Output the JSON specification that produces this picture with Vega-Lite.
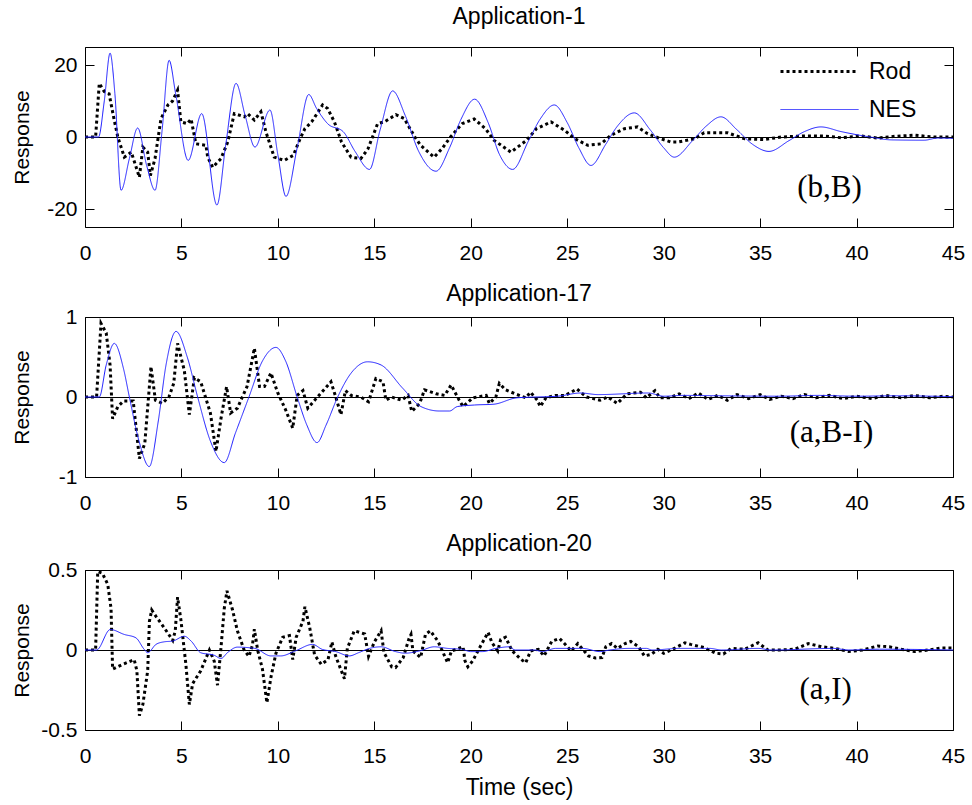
{
"$schema": "https://vega.github.io/schema/vega-lite/v6.json",
"padding": {"left": 10, "top": 5, "right": 0, "bottom": 0},
"spacing": 18,
"config": {
  "font": "Liberation Sans",
  "view": {"stroke": "black", "strokeWidth": 1},
  "title": {"fontSize": 23, "fontWeight": "normal", "color": "black", "offset": 18, "baseline": "alphabetic", "font": "Liberation Sans"},
  "axis": {"domain": false, "ticks": true, "tickColor": "black", "tickOpacity": 1, "labelColor": "black", "titleColor": "black", "labelFont": "Liberation Sans", "titleFont": "Liberation Sans", "labelFontSize": 21, "titleFontSize": 21, "titleFontWeight": "normal", "tickSize": 9, "offset": -9, "grid": false, "tickWidth": 1, "labelFlush": false, "labelOverlap": false, "zindex": 1, "format": ".1~f", "labelExpr": "replace(datum.label, '\u2212', '-')"},
  "legend": {"direction": "vertical", "symbolType": "M-3,0H3", "symbolSize": 676, "labelFontSize": 23, "labelFont": "Liberation Sans", "labelColor": "black", "labelOffset": 35, "rowPadding": 12, "padding": 0, "symbolFillColor": "transparent"}
},
"resolve": {"scale": {"color": "independent", "strokeDash": "independent", "strokeWidth": "independent"}, "legend": {"color": "independent", "strokeDash": "independent", "strokeWidth": "independent"}},
"datasets": {
"p1": [
{"t":0,"v":0,"s":"NES"},{"t":0.7,"v":0,"s":"NES"},{"t":1.0,"v":10,"s":"NES"},{"t":1.3,"v":23.3,"s":"NES"},{"t":1.55,"v":12,"s":"NES"},{"t":1.87,"v":-14.8,"s":"NES"},{"t":2.3,"v":-6,"s":"NES"},{"t":2.73,"v":2.5,"s":"NES"},{"t":3.2,"v":-8,"s":"NES"},{"t":3.63,"v":-14.8,"s":"NES"},{"t":4.0,"v":2,"s":"NES"},{"t":4.36,"v":21.3,"s":"NES"},{"t":4.7,"v":12,"s":"NES"},{"t":5.35,"v":-6.5,"s":"NES"},{"t":6.05,"v":6.5,"s":"NES"},{"t":6.84,"v":-18.9,"s":"NES"},{"t":7.3,"v":-2,"s":"NES"},{"t":7.83,"v":14.9,"s":"NES"},{"t":8.3,"v":6,"s":"NES"},{"t":8.81,"v":-2.8,"s":"NES"},{"t":9.59,"v":7.5,"s":"NES"},{"t":10.0,"v":-5,"s":"NES"},{"t":10.42,"v":-16.5,"s":"NES"},{"t":11.0,"v":-3,"s":"NES"},{"t":11.6,"v":11.8,"s":"NES"},{"t":12.0,"v":8,"s":"NES"},{"t":12.58,"v":3.7,"s":"NES"},{"t":13.4,"v":1.4,"s":"NES"},{"t":14.0,"v":-4,"s":"NES"},{"t":14.75,"v":-9,"s":"NES"},{"t":15.3,"v":2,"s":"NES"},{"t":15.95,"v":12.8,"s":"NES"},{"t":16.6,"v":6,"s":"NES"},{"t":17.3,"v":-4,"s":"NES"},{"t":18.2,"v":-9.5,"s":"NES"},{"t":18.9,"v":-3,"s":"NES"},{"t":19.5,"v":5,"s":"NES"},{"t":20.2,"v":10.5,"s":"NES"},{"t":20.9,"v":4,"s":"NES"},{"t":21.5,"v":-5,"s":"NES"},{"t":22.17,"v":-9,"s":"NES"},{"t":23.0,"v":-1,"s":"NES"},{"t":23.6,"v":5,"s":"NES"},{"t":24.33,"v":8.9,"s":"NES"},{"t":25.0,"v":4,"s":"NES"},{"t":25.6,"v":-3,"s":"NES"},{"t":26.23,"v":-7.9,"s":"NES"},{"t":27.0,"v":-2,"s":"NES"},{"t":27.6,"v":3,"s":"NES"},{"t":28.48,"v":6.7,"s":"NES"},{"t":29.3,"v":2,"s":"NES"},{"t":30.0,"v":-3,"s":"NES"},{"t":30.55,"v":-5.6,"s":"NES"},{"t":31.5,"v":-1,"s":"NES"},{"t":32.2,"v":3,"s":"NES"},{"t":32.97,"v":5.6,"s":"NES"},{"t":33.8,"v":2,"s":"NES"},{"t":34.6,"v":-2,"s":"NES"},{"t":35.46,"v":-4.0,"s":"NES"},{"t":36.5,"v":-1,"s":"NES"},{"t":37.3,"v":1.5,"s":"NES"},{"t":38.15,"v":2.8,"s":"NES"},{"t":39.2,"v":1.5,"s":"NES"},{"t":40.7,"v":0,"s":"NES"},{"t":41.8,"v":-0.8,"s":"NES"},{"t":43.5,"v":-0.9,"s":"NES"},{"t":44.2,"v":-0.3,"s":"NES"},{"t":45,"v":-0.4,"s":"NES"},
{"t":0,"v":0,"s":"Rod"},{"t":0.55,"v":0,"s":"Rod"},{"t":0.74,"v":14.9,"s":"Rod"},{"t":1.0,"v":12.6,"s":"Rod"},{"t":1.25,"v":12,"s":"Rod"},{"t":1.5,"v":5.1,"s":"Rod"},{"t":1.7,"v":0,"s":"Rod"},{"t":2.04,"v":-5.6,"s":"Rod"},{"t":2.4,"v":-4.2,"s":"Rod"},{"t":2.82,"v":-11.2,"s":"Rod"},{"t":3.0,"v":-2.8,"s":"Rod"},{"t":3.25,"v":-4.2,"s":"Rod"},{"t":3.39,"v":-10.7,"s":"Rod"},{"t":3.63,"v":-6,"s":"Rod"},{"t":3.94,"v":5.1,"s":"Rod"},{"t":4.3,"v":8.9,"s":"Rod"},{"t":4.54,"v":10,"s":"Rod"},{"t":4.8,"v":13,"s":"Rod"},{"t":4.97,"v":4.2,"s":"Rod"},{"t":5.3,"v":3.7,"s":"Rod"},{"t":5.5,"v":5,"s":"Rod"},{"t":5.75,"v":-1.9,"s":"Rod"},{"t":6.27,"v":-2.3,"s":"Rod"},{"t":6.36,"v":-5.6,"s":"Rod"},{"t":6.62,"v":-8.4,"s":"Rod"},{"t":7.05,"v":-6,"s":"Rod"},{"t":7.4,"v":-1.4,"s":"Rod"},{"t":7.74,"v":6.5,"s":"Rod"},{"t":8.26,"v":5.6,"s":"Rod"},{"t":8.43,"v":6.5,"s":"Rod"},{"t":8.78,"v":4.7,"s":"Rod"},{"t":9.12,"v":7,"s":"Rod"},{"t":9.38,"v":1.4,"s":"Rod"},{"t":9.81,"v":-5.6,"s":"Rod"},{"t":10.33,"v":-6.5,"s":"Rod"},{"t":10.8,"v":-5.1,"s":"Rod"},{"t":11.15,"v":-0.5,"s":"Rod"},{"t":11.4,"v":2.3,"s":"Rod"},{"t":11.75,"v":4.2,"s":"Rod"},{"t":11.92,"v":5.6,"s":"Rod"},{"t":12.32,"v":8.9,"s":"Rod"},{"t":12.58,"v":7.9,"s":"Rod"},{"t":12.93,"v":4.2,"s":"Rod"},{"t":13.3,"v":-1.4,"s":"Rod"},{"t":13.79,"v":-5.6,"s":"Rod"},{"t":14.3,"v":-6,"s":"Rod"},{"t":14.67,"v":-3.3,"s":"Rod"},{"t":15.17,"v":3.7,"s":"Rod"},{"t":15.52,"v":4.2,"s":"Rod"},{"t":16.12,"v":6.2,"s":"Rod"},{"t":16.55,"v":5.1,"s":"Rod"},{"t":17.1,"v":0,"s":"Rod"},{"t":17.4,"v":-2.3,"s":"Rod"},{"t":18.1,"v":-5.6,"s":"Rod"},{"t":18.5,"v":-3.3,"s":"Rod"},{"t":18.95,"v":0,"s":"Rod"},{"t":19.55,"v":3.7,"s":"Rod"},{"t":20.18,"v":5,"s":"Rod"},{"t":20.78,"v":2.2,"s":"Rod"},{"t":21.2,"v":-0.9,"s":"Rod"},{"t":22.08,"v":-4.2,"s":"Rod"},{"t":22.9,"v":-0.9,"s":"Rod"},{"t":23.4,"v":2.3,"s":"Rod"},{"t":24.16,"v":4.2,"s":"Rod"},{"t":24.85,"v":1.9,"s":"Rod"},{"t":25.4,"v":-0.5,"s":"Rod"},{"t":26.06,"v":-2.3,"s":"Rod"},{"t":26.75,"v":-1.9,"s":"Rod"},{"t":27.27,"v":0.5,"s":"Rod"},{"t":27.96,"v":2.3,"s":"Rod"},{"t":28.65,"v":2.8,"s":"Rod"},{"t":29.17,"v":0.9,"s":"Rod"},{"t":29.86,"v":-0.5,"s":"Rod"},{"t":30.37,"v":-1.4,"s":"Rod"},{"t":30.74,"v":-1.4,"s":"Rod"},{"t":31.6,"v":-0.5,"s":"Rod"},{"t":32.1,"v":1.2,"s":"Rod"},{"t":33.3,"v":1.2,"s":"Rod"},{"t":34.2,"v":-0.5,"s":"Rod"},{"t":35.2,"v":-0.7,"s":"Rod"},{"t":36.1,"v":0,"s":"Rod"},{"t":37.3,"v":0.3,"s":"Rod"},{"t":38.3,"v":0.3,"s":"Rod"},{"t":39.2,"v":-0.2,"s":"Rod"},{"t":40.2,"v":0.3,"s":"Rod"},{"t":41.1,"v":-0.3,"s":"Rod"},{"t":42.0,"v":0.2,"s":"Rod"},{"t":43.0,"v":0.5,"s":"Rod"},{"t":44.0,"v":0,"s":"Rod"},{"t":45,"v":0,"s":"Rod"}
],
"p2": [
{"t":0,"v":0,"s":"NES"},{"t":0.74,"v":0,"s":"NES"},{"t":1.1,"v":0.4,"s":"NES"},{"t":1.52,"v":0.67,"s":"NES"},{"t":2.0,"v":0.35,"s":"NES"},{"t":2.3,"v":0,"s":"NES"},{"t":2.8,"v":-0.55,"s":"NES"},{"t":3.33,"v":-0.87,"s":"NES"},{"t":3.8,"v":-0.3,"s":"NES"},{"t":4.2,"v":0.4,"s":"NES"},{"t":4.72,"v":0.82,"s":"NES"},{"t":5.3,"v":0.5,"s":"NES"},{"t":5.84,"v":0,"s":"NES"},{"t":6.5,"v":-0.55,"s":"NES"},{"t":7.22,"v":-0.82,"s":"NES"},{"t":7.8,"v":-0.45,"s":"NES"},{"t":8.5,"v":0,"s":"NES"},{"t":9.2,"v":0.45,"s":"NES"},{"t":9.9,"v":0.62,"s":"NES"},{"t":10.4,"v":0.45,"s":"NES"},{"t":11.0,"v":0,"s":"NES"},{"t":11.5,"v":-0.35,"s":"NES"},{"t":12.03,"v":-0.57,"s":"NES"},{"t":12.5,"v":-0.35,"s":"NES"},{"t":13.1,"v":0,"s":"NES"},{"t":13.8,"v":0.3,"s":"NES"},{"t":14.65,"v":0.44,"s":"NES"},{"t":15.35,"v":0.4,"s":"NES"},{"t":16.47,"v":0.11,"s":"NES"},{"t":17.42,"v":-0.12,"s":"NES"},{"t":18.37,"v":-0.175,"s":"NES"},{"t":18.9,"v":-0.175,"s":"NES"},{"t":19.3,"v":-0.12,"s":"NES"},{"t":20.2,"v":-0.1,"s":"NES"},{"t":21.2,"v":-0.09,"s":"NES"},{"t":22.4,"v":-0.01,"s":"NES"},{"t":24.5,"v":0.01,"s":"NES"},{"t":25.7,"v":0.05,"s":"NES"},{"t":26.6,"v":0.03,"s":"NES"},{"t":29.2,"v":0.05,"s":"NES"},{"t":30.0,"v":0.01,"s":"NES"},{"t":31,"v":0.02,"s":"NES"},{"t":33,"v":0.015,"s":"NES"},{"t":36,"v":0.01,"s":"NES"},{"t":38,"v":0.02,"s":"NES"},{"t":40,"v":0.01,"s":"NES"},{"t":42,"v":0.015,"s":"NES"},{"t":45,"v":0.005,"s":"NES"},
{"t":0,"v":0,"s":"Rod"},{"t":0.6,"v":0,"s":"Rod"},{"t":0.83,"v":0.92,"s":"Rod"},{"t":1.1,"v":0.8,"s":"Rod"},{"t":1.3,"v":0.4,"s":"Rod"},{"t":1.43,"v":-0.27,"s":"Rod"},{"t":1.7,"v":-0.12,"s":"Rod"},{"t":2.0,"v":-0.05,"s":"Rod"},{"t":2.5,"v":-0.05,"s":"Rod"},{"t":2.82,"v":-0.77,"s":"Rod"},{"t":3.1,"v":-0.58,"s":"Rod"},{"t":3.42,"v":0.38,"s":"Rod"},{"t":3.65,"v":-0.04,"s":"Rod"},{"t":4.0,"v":-0.08,"s":"Rod"},{"t":4.35,"v":0,"s":"Rod"},{"t":4.6,"v":0.17,"s":"Rod"},{"t":4.8,"v":0.67,"s":"Rod"},{"t":5.15,"v":0.33,"s":"Rod"},{"t":5.41,"v":-0.22,"s":"Rod"},{"t":5.67,"v":0.24,"s":"Rod"},{"t":6.0,"v":0.19,"s":"Rod"},{"t":6.5,"v":-0.2,"s":"Rod"},{"t":6.79,"v":-0.68,"s":"Rod"},{"t":7.05,"v":-0.27,"s":"Rod"},{"t":7.34,"v":0.13,"s":"Rod"},{"t":7.55,"v":-0.2,"s":"Rod"},{"t":7.9,"v":-0.14,"s":"Rod"},{"t":8.4,"v":0.13,"s":"Rod"},{"t":8.78,"v":0.61,"s":"Rod"},{"t":9.05,"v":0.13,"s":"Rod"},{"t":9.3,"v":0.13,"s":"Rod"},{"t":9.64,"v":0.3,"s":"Rod"},{"t":9.98,"v":0.06,"s":"Rod"},{"t":10.4,"v":-0.16,"s":"Rod"},{"t":10.77,"v":-0.39,"s":"Rod"},{"t":11.0,"v":0.02,"s":"Rod"},{"t":11.3,"v":0.08,"s":"Rod"},{"t":11.55,"v":-0.14,"s":"Rod"},{"t":12.05,"v":0,"s":"Rod"},{"t":12.75,"v":0.19,"s":"Rod"},{"t":13.0,"v":0,"s":"Rod"},{"t":13.27,"v":-0.22,"s":"Rod"},{"t":13.5,"v":0.08,"s":"Rod"},{"t":13.8,"v":0.02,"s":"Rod"},{"t":14.3,"v":0,"s":"Rod"},{"t":14.7,"v":-0.06,"s":"Rod"},{"t":15.08,"v":0.23,"s":"Rod"},{"t":15.45,"v":0.19,"s":"Rod"},{"t":15.6,"v":-0.04,"s":"Rod"},{"t":15.9,"v":0,"s":"Rod"},{"t":16.4,"v":-0.04,"s":"Rod"},{"t":16.75,"v":0.02,"s":"Rod"},{"t":16.94,"v":-0.18,"s":"Rod"},{"t":17.35,"v":-0.08,"s":"Rod"},{"t":17.6,"v":0.09,"s":"Rod"},{"t":18.2,"v":0.04,"s":"Rod"},{"t":18.65,"v":0.02,"s":"Rod"},{"t":18.98,"v":0.15,"s":"Rod"},{"t":19.4,"v":-0.04,"s":"Rod"},{"t":19.6,"v":-0.12,"s":"Rod"},{"t":20.1,"v":-0.01,"s":"Rod"},{"t":20.8,"v":0.02,"s":"Rod"},{"t":20.96,"v":-0.08,"s":"Rod"},{"t":21.3,"v":0,"s":"Rod"},{"t":21.48,"v":0.17,"s":"Rod"},{"t":21.8,"v":0.09,"s":"Rod"},{"t":22.3,"v":0.04,"s":"Rod"},{"t":22.85,"v":-0.01,"s":"Rod"},{"t":23.1,"v":0.06,"s":"Rod"},{"t":23.45,"v":-0.04,"s":"Rod"},{"t":23.6,"v":-0.12,"s":"Rod"},{"t":23.9,"v":-0.01,"s":"Rod"},{"t":24.4,"v":0.02,"s":"Rod"},{"t":24.9,"v":0.02,"s":"Rod"},{"t":25.5,"v":0.1,"s":"Rod"},{"t":25.7,"v":0.06,"s":"Rod"},{"t":26.0,"v":0,"s":"Rod"},{"t":26.7,"v":-0.04,"s":"Rod"},{"t":27.1,"v":0,"s":"Rod"},{"t":27.6,"v":-0.08,"s":"Rod"},{"t":28.1,"v":0.04,"s":"Rod"},{"t":28.8,"v":0.06,"s":"Rod"},{"t":29.1,"v":-0.01,"s":"Rod"},{"t":29.55,"v":0.08,"s":"Rod"},{"t":29.8,"v":-0.01,"s":"Rod"},{"t":30.3,"v":-0.01,"s":"Rod"},{"t":30.8,"v":0.04,"s":"Rod"},{"t":31.3,"v":-0.02,"s":"Rod"},{"t":31.8,"v":0.05,"s":"Rod"},{"t":32.3,"v":-0.03,"s":"Rod"},{"t":32.8,"v":0.02,"s":"Rod"},{"t":33.3,"v":-0.04,"s":"Rod"},{"t":33.8,"v":0.03,"s":"Rod"},{"t":34.4,"v":-0.02,"s":"Rod"},{"t":35.0,"v":0.03,"s":"Rod"},{"t":35.5,"v":-0.03,"s":"Rod"},{"t":36.1,"v":0.01,"s":"Rod"},{"t":36.7,"v":-0.02,"s":"Rod"},{"t":37.3,"v":0.03,"s":"Rod"},{"t":37.9,"v":-0.01,"s":"Rod"},{"t":38.6,"v":0.02,"s":"Rod"},{"t":39.3,"v":-0.02,"s":"Rod"},{"t":40.0,"v":0.01,"s":"Rod"},{"t":40.8,"v":-0.02,"s":"Rod"},{"t":41.5,"v":0.02,"s":"Rod"},{"t":42.3,"v":-0.01,"s":"Rod"},{"t":43.0,"v":0.02,"s":"Rod"},{"t":43.8,"v":-0.01,"s":"Rod"},{"t":44.5,"v":0.01,"s":"Rod"},{"t":45,"v":0,"s":"Rod"}
],
"p3": [
{"t":0,"v":0,"s":"NES"},{"t":0.6,"v":0,"s":"NES"},{"t":1.31,"v":0.128,"s":"NES"},{"t":2.04,"v":0.097,"s":"NES"},{"t":2.64,"v":0.076,"s":"NES"},{"t":3.07,"v":0.004,"s":"NES"},{"t":3.25,"v":-0.017,"s":"NES"},{"t":3.68,"v":0.035,"s":"NES"},{"t":4.1,"v":0.051,"s":"NES"},{"t":4.55,"v":0.056,"s":"NES"},{"t":5.15,"v":0.086,"s":"NES"},{"t":5.5,"v":0.056,"s":"NES"},{"t":6.0,"v":-0.017,"s":"NES"},{"t":6.7,"v":-0.033,"s":"NES"},{"t":7.05,"v":-0.053,"s":"NES"},{"t":7.4,"v":-0.015,"s":"NES"},{"t":7.9,"v":0.018,"s":"NES"},{"t":8.8,"v":0.01,"s":"NES"},{"t":9.64,"v":-0.037,"s":"NES"},{"t":10.15,"v":-0.037,"s":"NES"},{"t":10.9,"v":-0.006,"s":"NES"},{"t":11.8,"v":0.035,"s":"NES"},{"t":12.3,"v":0.004,"s":"NES"},{"t":13.0,"v":-0.01,"s":"NES"},{"t":13.7,"v":-0.037,"s":"NES"},{"t":14.2,"v":-0.016,"s":"NES"},{"t":14.75,"v":0.01,"s":"NES"},{"t":15.35,"v":0.02,"s":"NES"},{"t":16.1,"v":-0.01,"s":"NES"},{"t":16.6,"v":-0.02,"s":"NES"},{"t":17.4,"v":-0.004,"s":"NES"},{"t":18.1,"v":0.02,"s":"NES"},{"t":18.8,"v":0.01,"s":"NES"},{"t":19.55,"v":0.004,"s":"NES"},{"t":20.0,"v":-0.01,"s":"NES"},{"t":20.6,"v":-0.01,"s":"NES"},{"t":21.3,"v":0.01,"s":"NES"},{"t":22.0,"v":0.02,"s":"NES"},{"t":22.3,"v":0,"s":"NES"},{"t":23.3,"v":0,"s":"NES"},{"t":23.7,"v":-0.01,"s":"NES"},{"t":24.4,"v":0.01,"s":"NES"},{"t":25.8,"v":0.01,"s":"NES"},{"t":26.7,"v":-0.01,"s":"NES"},{"t":27.2,"v":0,"s":"NES"},{"t":28.2,"v":0.01,"s":"NES"},{"t":29.1,"v":0.01,"s":"NES"},{"t":29.4,"v":0,"s":"NES"},{"t":30.8,"v":0.01,"s":"NES"},{"t":32.4,"v":0.01,"s":"NES"},{"t":33,"v":0,"s":"NES"},{"t":34.9,"v":0.01,"s":"NES"},{"t":35.6,"v":0,"s":"NES"},{"t":38.8,"v":0.01,"s":"NES"},{"t":39.6,"v":0,"s":"NES"},{"t":41.2,"v":0.005,"s":"NES"},{"t":45,"v":0,"s":"NES"},
{"t":0,"v":0,"s":"Rod"},{"t":0.55,"v":0,"s":"Rod"},{"t":0.66,"v":0.49,"s":"Rod"},{"t":0.9,"v":0.48,"s":"Rod"},{"t":1.18,"v":0.41,"s":"Rod"},{"t":1.35,"v":0.26,"s":"Rod"},{"t":1.43,"v":-0.12,"s":"Rod"},{"t":1.95,"v":-0.09,"s":"Rod"},{"t":2.55,"v":-0.06,"s":"Rod"},{"t":2.69,"v":-0.13,"s":"Rod"},{"t":2.82,"v":-0.41,"s":"Rod"},{"t":3.0,"v":-0.34,"s":"Rod"},{"t":3.25,"v":-0.13,"s":"Rod"},{"t":3.34,"v":0.18,"s":"Rod"},{"t":3.46,"v":0.25,"s":"Rod"},{"t":3.68,"v":0.21,"s":"Rod"},{"t":4.1,"v":0.14,"s":"Rod"},{"t":4.55,"v":0.06,"s":"Rod"},{"t":4.68,"v":0.12,"s":"Rod"},{"t":4.8,"v":0.33,"s":"Rod"},{"t":4.97,"v":0.19,"s":"Rod"},{"t":5.23,"v":-0.09,"s":"Rod"},{"t":5.41,"v":-0.34,"s":"Rod"},{"t":5.58,"v":-0.21,"s":"Rod"},{"t":6.0,"v":-0.13,"s":"Rod"},{"t":6.45,"v":0,"s":"Rod"},{"t":6.7,"v":-0.07,"s":"Rod"},{"t":6.87,"v":-0.22,"s":"Rod"},{"t":7.05,"v":0.015,"s":"Rod"},{"t":7.22,"v":0.26,"s":"Rod"},{"t":7.36,"v":0.37,"s":"Rod"},{"t":7.65,"v":0.25,"s":"Rod"},{"t":7.9,"v":0.12,"s":"Rod"},{"t":8.25,"v":0,"s":"Rod"},{"t":8.5,"v":-0.04,"s":"Rod"},{"t":8.68,"v":0.03,"s":"Rod"},{"t":8.78,"v":0.13,"s":"Rod"},{"t":8.95,"v":0,"s":"Rod"},{"t":9.2,"v":-0.12,"s":"Rod"},{"t":9.43,"v":-0.33,"s":"Rod"},{"t":9.64,"v":-0.17,"s":"Rod"},{"t":9.9,"v":-0.02,"s":"Rod"},{"t":10.25,"v":0.08,"s":"Rod"},{"t":10.6,"v":0.09,"s":"Rod"},{"t":10.77,"v":-0.06,"s":"Rod"},{"t":10.95,"v":0.08,"s":"Rod"},{"t":11.3,"v":0.18,"s":"Rod"},{"t":11.4,"v":0.27,"s":"Rod"},{"t":11.65,"v":0.14,"s":"Rod"},{"t":11.9,"v":-0.03,"s":"Rod"},{"t":12.25,"v":-0.09,"s":"Rod"},{"t":12.6,"v":-0.06,"s":"Rod"},{"t":12.8,"v":0.05,"s":"Rod"},{"t":13.0,"v":-0.04,"s":"Rod"},{"t":13.45,"v":-0.18,"s":"Rod"},{"t":13.6,"v":0.01,"s":"Rod"},{"t":13.96,"v":0.12,"s":"Rod"},{"t":14.5,"v":0.1,"s":"Rod"},{"t":14.7,"v":-0.04,"s":"Rod"},{"t":15.0,"v":0.05,"s":"Rod"},{"t":15.35,"v":0.12,"s":"Rod"},{"t":15.5,"v":-0.016,"s":"Rod"},{"t":15.9,"v":-0.105,"s":"Rod"},{"t":16.1,"v":-0.11,"s":"Rod"},{"t":16.5,"v":-0.047,"s":"Rod"},{"t":16.8,"v":0.072,"s":"Rod"},{"t":16.9,"v":0.097,"s":"Rod"},{"t":17.0,"v":-0.006,"s":"Rod"},{"t":17.4,"v":-0.047,"s":"Rod"},{"t":17.65,"v":0.097,"s":"Rod"},{"t":17.9,"v":0.12,"s":"Rod"},{"t":18.3,"v":0.055,"s":"Rod"},{"t":18.8,"v":-0.08,"s":"Rod"},{"t":19.0,"v":-0.006,"s":"Rod"},{"t":19.6,"v":0.02,"s":"Rod"},{"t":19.7,"v":-0.068,"s":"Rod"},{"t":19.85,"v":-0.105,"s":"Rod"},{"t":20.1,"v":-0.068,"s":"Rod"},{"t":20.55,"v":0.035,"s":"Rod"},{"t":20.9,"v":0.11,"s":"Rod"},{"t":21.1,"v":0.045,"s":"Rod"},{"t":21.4,"v":-0.006,"s":"Rod"},{"t":21.55,"v":0.066,"s":"Rod"},{"t":21.8,"v":0.08,"s":"Rod"},{"t":22.15,"v":-0.006,"s":"Rod"},{"t":22.6,"v":-0.058,"s":"Rod"},{"t":22.85,"v":-0.08,"s":"Rod"},{"t":23.1,"v":-0.006,"s":"Rod"},{"t":23.5,"v":0.004,"s":"Rod"},{"t":23.8,"v":-0.037,"s":"Rod"},{"t":24.2,"v":0.055,"s":"Rod"},{"t":24.6,"v":0.072,"s":"Rod"},{"t":24.9,"v":0.035,"s":"Rod"},{"t":25.2,"v":-0.006,"s":"Rod"},{"t":25.55,"v":0.04,"s":"Rod"},{"t":26.1,"v":-0.037,"s":"Rod"},{"t":26.45,"v":-0.05,"s":"Rod"},{"t":26.8,"v":-0.047,"s":"Rod"},{"t":27.0,"v":0.02,"s":"Rod"},{"t":27.3,"v":0.04,"s":"Rod"},{"t":27.6,"v":0.01,"s":"Rod"},{"t":28.0,"v":0.04,"s":"Rod"},{"t":28.3,"v":0.053,"s":"Rod"},{"t":28.7,"v":0.02,"s":"Rod"},{"t":29.0,"v":-0.037,"s":"Rod"},{"t":29.35,"v":-0.027,"s":"Rod"},{"t":29.7,"v":0.004,"s":"Rod"},{"t":30.0,"v":-0.02,"s":"Rod"},{"t":30.4,"v":0,"s":"Rod"},{"t":31.1,"v":0.045,"s":"Rod"},{"t":31.4,"v":0.035,"s":"Rod"},{"t":32.1,"v":0.015,"s":"Rod"},{"t":32.7,"v":-0.02,"s":"Rod"},{"t":33.1,"v":-0.025,"s":"Rod"},{"t":33.5,"v":0.01,"s":"Rod"},{"t":34.2,"v":0.005,"s":"Rod"},{"t":34.9,"v":0.045,"s":"Rod"},{"t":35.4,"v":0,"s":"Rod"},{"t":36.1,"v":0,"s":"Rod"},{"t":36.8,"v":0.005,"s":"Rod"},{"t":37.5,"v":0.04,"s":"Rod"},{"t":38.2,"v":0.02,"s":"Rod"},{"t":38.9,"v":0.01,"s":"Rod"},{"t":39.6,"v":-0.01,"s":"Rod"},{"t":40.3,"v":0,"s":"Rod"},{"t":41.1,"v":0.025,"s":"Rod"},{"t":41.7,"v":0.02,"s":"Rod"},{"t":42.3,"v":0.005,"s":"Rod"},{"t":43.0,"v":-0.01,"s":"Rod"},{"t":43.7,"v":0,"s":"Rod"},{"t":44.4,"v":0.012,"s":"Rod"},{"t":45,"v":0.012,"s":"Rod"}
]
},
"vconcat": [
{
 "width": 868, "height": 180,
 "title": {"text": "Application-1", "offset": 18},
 "data": {"name": "p1"},
 "layer": [
  {"data": {"values": [{}]}, "mark": {"type": "rule", "color": "black", "strokeWidth": 1, "yOffset": 0.5},
   "encoding": {"y": {"datum": 0, "type": "quantitative", "scale": {"domain": [-25, 25], "nice": false, "zero": false}, "axis": null}}},
  {"transform": [{"filter": "datum.s === 'Rod'"}],
   "mark": {"type": "line", "strokeCap": "butt"},
   "encoding": {
    "x": {"field": "t", "type": "quantitative", "scale": {"domain": [0, 45], "nice": false, "zero": false}, "axis": {"orient": "bottom", "title": null, "ticks": true, "values": [0,5,10,15,20,25,30,35,40,45], "labelPadding": 15}},
    "y": {"field": "v", "type": "quantitative", "scale": {"domain": [-25, 25], "nice": false, "zero": false}, "axis": {"orient": "left", "title": "Response", "ticks": true, "titleX": -62, "values": [-20, 0, 20], "labelPadding": 8}},
    "color": {"field": "s", "type": "nominal", "scale": {"domain": ["Rod", "NES"], "range": ["black", "#1f1fff"]}, "legend": {"title": null, "orient": "none", "legendX": 720, "legendY": 10}},
    "strokeDash": {"field": "s", "type": "nominal", "scale": {"domain": ["Rod", "NES"], "range": [[3, 3], [1, 0]]}, "legend": {"title": null, "orient": "none", "legendX": 720, "legendY": 10}},
    "strokeWidth": {"field": "s", "type": "nominal", "scale": {"domain": ["Rod", "NES"], "range": [3, 1]}, "legend": {"title": null, "orient": "none", "legendX": 720, "legendY": 10}}
   }},
  {"transform": [{"filter": "datum.s === 'NES'"}],
   "mark": {"type": "line", "interpolate": "monotone"},
   "encoding": {
    "x": {"field": "t", "type": "quantitative", "scale": {"domain": [0, 45], "nice": false, "zero": false}, "axis": {"orient": "top", "title": null, "ticks": true, "labels": false, "values": [0,5,10,15,20,25,30,35,40,45]}},
    "y": {"field": "v", "type": "quantitative", "scale": {"domain": [-25, 25], "nice": false, "zero": false}, "axis": {"orient": "right", "title": null, "ticks": true, "labels": false, "values": [-20, 0, 20]}},
    "color": {"field": "s", "type": "nominal", "scale": {"domain": ["Rod", "NES"], "range": ["black", "#1f1fff"]}, "legend": {"title": null, "orient": "none", "legendX": 720, "legendY": 10}},
    "strokeDash": {"field": "s", "type": "nominal", "scale": {"domain": ["Rod", "NES"], "range": [[3, 3], [1, 0]]}, "legend": {"title": null, "orient": "none", "legendX": 720, "legendY": 10}},
    "strokeWidth": {"field": "s", "type": "nominal", "scale": {"domain": ["Rod", "NES"], "range": [3, 1]}, "legend": {"title": null, "orient": "none", "legendX": 720, "legendY": 10}}
   }},
  {"data": {"values": [{"t": 38.6, "v": -14.1, "label": "(b,B)"}]},
   "mark": {"type": "text", "font": "Liberation Serif", "fontSize": 31, "align": "center", "baseline": "middle", "color": "black"},
   "encoding": {"x": {"field": "t", "type": "quantitative", "axis": null}, "y": {"field": "v", "type": "quantitative", "axis": null}, "text": {"field": "label"}}}
 ],
 "resolve": {"axis": {"x": "independent", "y": "independent"}}
},
{
 "width": 868, "height": 160,
 "title": {"text": "Application-17", "offset": 0},
 "data": {"name": "p2"},
 "layer": [
  {"data": {"values": [{}]}, "mark": {"type": "rule", "color": "black", "strokeWidth": 1, "yOffset": 0.5},
   "encoding": {"y": {"datum": 0, "type": "quantitative", "scale": {"domain": [-1, 1], "nice": false, "zero": false}, "axis": null}}},
  {"transform": [{"filter": "datum.s === 'Rod'"}],
   "mark": {"type": "line", "strokeCap": "butt"},
   "encoding": {
    "x": {"field": "t", "type": "quantitative", "scale": {"domain": [0, 45], "nice": false, "zero": false}, "axis": {"orient": "bottom", "title": null, "ticks": true, "values": [0,5,10,15,20,25,30,35,40,45], "labelPadding": 15}},
    "y": {"field": "v", "type": "quantitative", "scale": {"domain": [-1, 1], "nice": false, "zero": false}, "axis": {"orient": "left", "title": "Response", "ticks": true, "titleX": -62, "values": [-1, 0, 1], "labelPadding": 8}},
    "color": {"field": "s", "type": "nominal", "scale": {"domain": ["Rod", "NES"], "range": ["black", "#1f1fff"]}, "legend": null},
    "strokeDash": {"field": "s", "type": "nominal", "scale": {"domain": ["Rod", "NES"], "range": [[3, 3], [1, 0]]}, "legend": null},
    "strokeWidth": {"field": "s", "type": "nominal", "scale": {"domain": ["Rod", "NES"], "range": [3, 1]}, "legend": null}
   }},
  {"transform": [{"filter": "datum.s === 'NES'"}],
   "mark": {"type": "line", "interpolate": "monotone"},
   "encoding": {
    "x": {"field": "t", "type": "quantitative", "scale": {"domain": [0, 45], "nice": false, "zero": false}, "axis": {"orient": "top", "title": null, "ticks": true, "labels": false, "values": [0,5,10,15,20,25,30,35,40,45]}},
    "y": {"field": "v", "type": "quantitative", "scale": {"domain": [-1, 1], "nice": false, "zero": false}, "axis": {"orient": "right", "title": null, "ticks": true, "labels": false, "values": [-1, 0, 1]}},
    "color": {"field": "s", "type": "nominal", "scale": {"domain": ["Rod", "NES"], "range": ["black", "#1f1fff"]}, "legend": null},
    "strokeDash": {"field": "s", "type": "nominal", "scale": {"domain": ["Rod", "NES"], "range": [[3, 3], [1, 0]]}, "legend": null},
    "strokeWidth": {"field": "s", "type": "nominal", "scale": {"domain": ["Rod", "NES"], "range": [3, 1]}, "legend": null}
   }},
  {"data": {"values": [{"t": 38.7, "v": -0.45, "label": "(a,B-I)"}]},
   "mark": {"type": "text", "font": "Liberation Serif", "fontSize": 31, "align": "center", "baseline": "middle", "color": "black"},
   "encoding": {"x": {"field": "t", "type": "quantitative", "axis": null}, "y": {"field": "v", "type": "quantitative", "axis": null}, "text": {"field": "label"}}}
 ],
 "resolve": {"axis": {"x": "independent", "y": "independent"}}
},
{
 "width": 868, "height": 160,
 "title": {"text": "Application-20", "offset": 3},
 "data": {"name": "p3"},
 "layer": [
  {"data": {"values": [{}]}, "mark": {"type": "rule", "color": "black", "strokeWidth": 1, "yOffset": 0.5},
   "encoding": {"y": {"datum": 0, "type": "quantitative", "scale": {"domain": [-0.5, 0.5], "nice": false, "zero": false}, "axis": null}}},
  {"transform": [{"filter": "datum.s === 'Rod'"}],
   "mark": {"type": "line", "strokeCap": "butt"},
   "encoding": {
    "x": {"field": "t", "type": "quantitative", "scale": {"domain": [0, 45], "nice": false, "zero": false}, "axis": {"orient": "bottom", "title": "Time (sec)", "ticks": true, "titleFontSize": 23, "titlePadding": 10, "values": [0,5,10,15,20,25,30,35,40,45], "labelPadding": 15}},
    "y": {"field": "v", "type": "quantitative", "scale": {"domain": [-0.5, 0.5], "nice": false, "zero": false}, "axis": {"orient": "left", "title": "Response", "ticks": true, "titleX": -62, "values": [-0.5, 0, 0.5], "labelPadding": 8}},
    "color": {"field": "s", "type": "nominal", "scale": {"domain": ["Rod", "NES"], "range": ["black", "#1f1fff"]}, "legend": null},
    "strokeDash": {"field": "s", "type": "nominal", "scale": {"domain": ["Rod", "NES"], "range": [[3, 3], [1, 0]]}, "legend": null},
    "strokeWidth": {"field": "s", "type": "nominal", "scale": {"domain": ["Rod", "NES"], "range": [3, 1]}, "legend": null}
   }},
  {"transform": [{"filter": "datum.s === 'NES'"}],
   "mark": {"type": "line", "interpolate": "monotone"},
   "encoding": {
    "x": {"field": "t", "type": "quantitative", "scale": {"domain": [0, 45], "nice": false, "zero": false}, "axis": {"orient": "top", "title": null, "ticks": true, "labels": false, "values": [0,5,10,15,20,25,30,35,40,45]}},
    "y": {"field": "v", "type": "quantitative", "scale": {"domain": [-0.5, 0.5], "nice": false, "zero": false}, "axis": {"orient": "right", "title": null, "ticks": true, "labels": false, "values": [-0.5, 0, 0.5]}},
    "color": {"field": "s", "type": "nominal", "scale": {"domain": ["Rod", "NES"], "range": ["black", "#1f1fff"]}, "legend": null},
    "strokeDash": {"field": "s", "type": "nominal", "scale": {"domain": ["Rod", "NES"], "range": [[3, 3], [1, 0]]}, "legend": null},
    "strokeWidth": {"field": "s", "type": "nominal", "scale": {"domain": ["Rod", "NES"], "range": [3, 1]}, "legend": null}
   }},
  {"data": {"values": [{"t": 38.4, "v": -0.25, "label": "(a,I)"}]},
   "mark": {"type": "text", "font": "Liberation Serif", "fontSize": 31, "align": "center", "baseline": "middle", "color": "black"},
   "encoding": {"x": {"field": "t", "type": "quantitative", "axis": null}, "y": {"field": "v", "type": "quantitative", "axis": null}, "text": {"field": "label"}}}
 ],
 "resolve": {"axis": {"x": "independent", "y": "independent"}}
}
]
}
